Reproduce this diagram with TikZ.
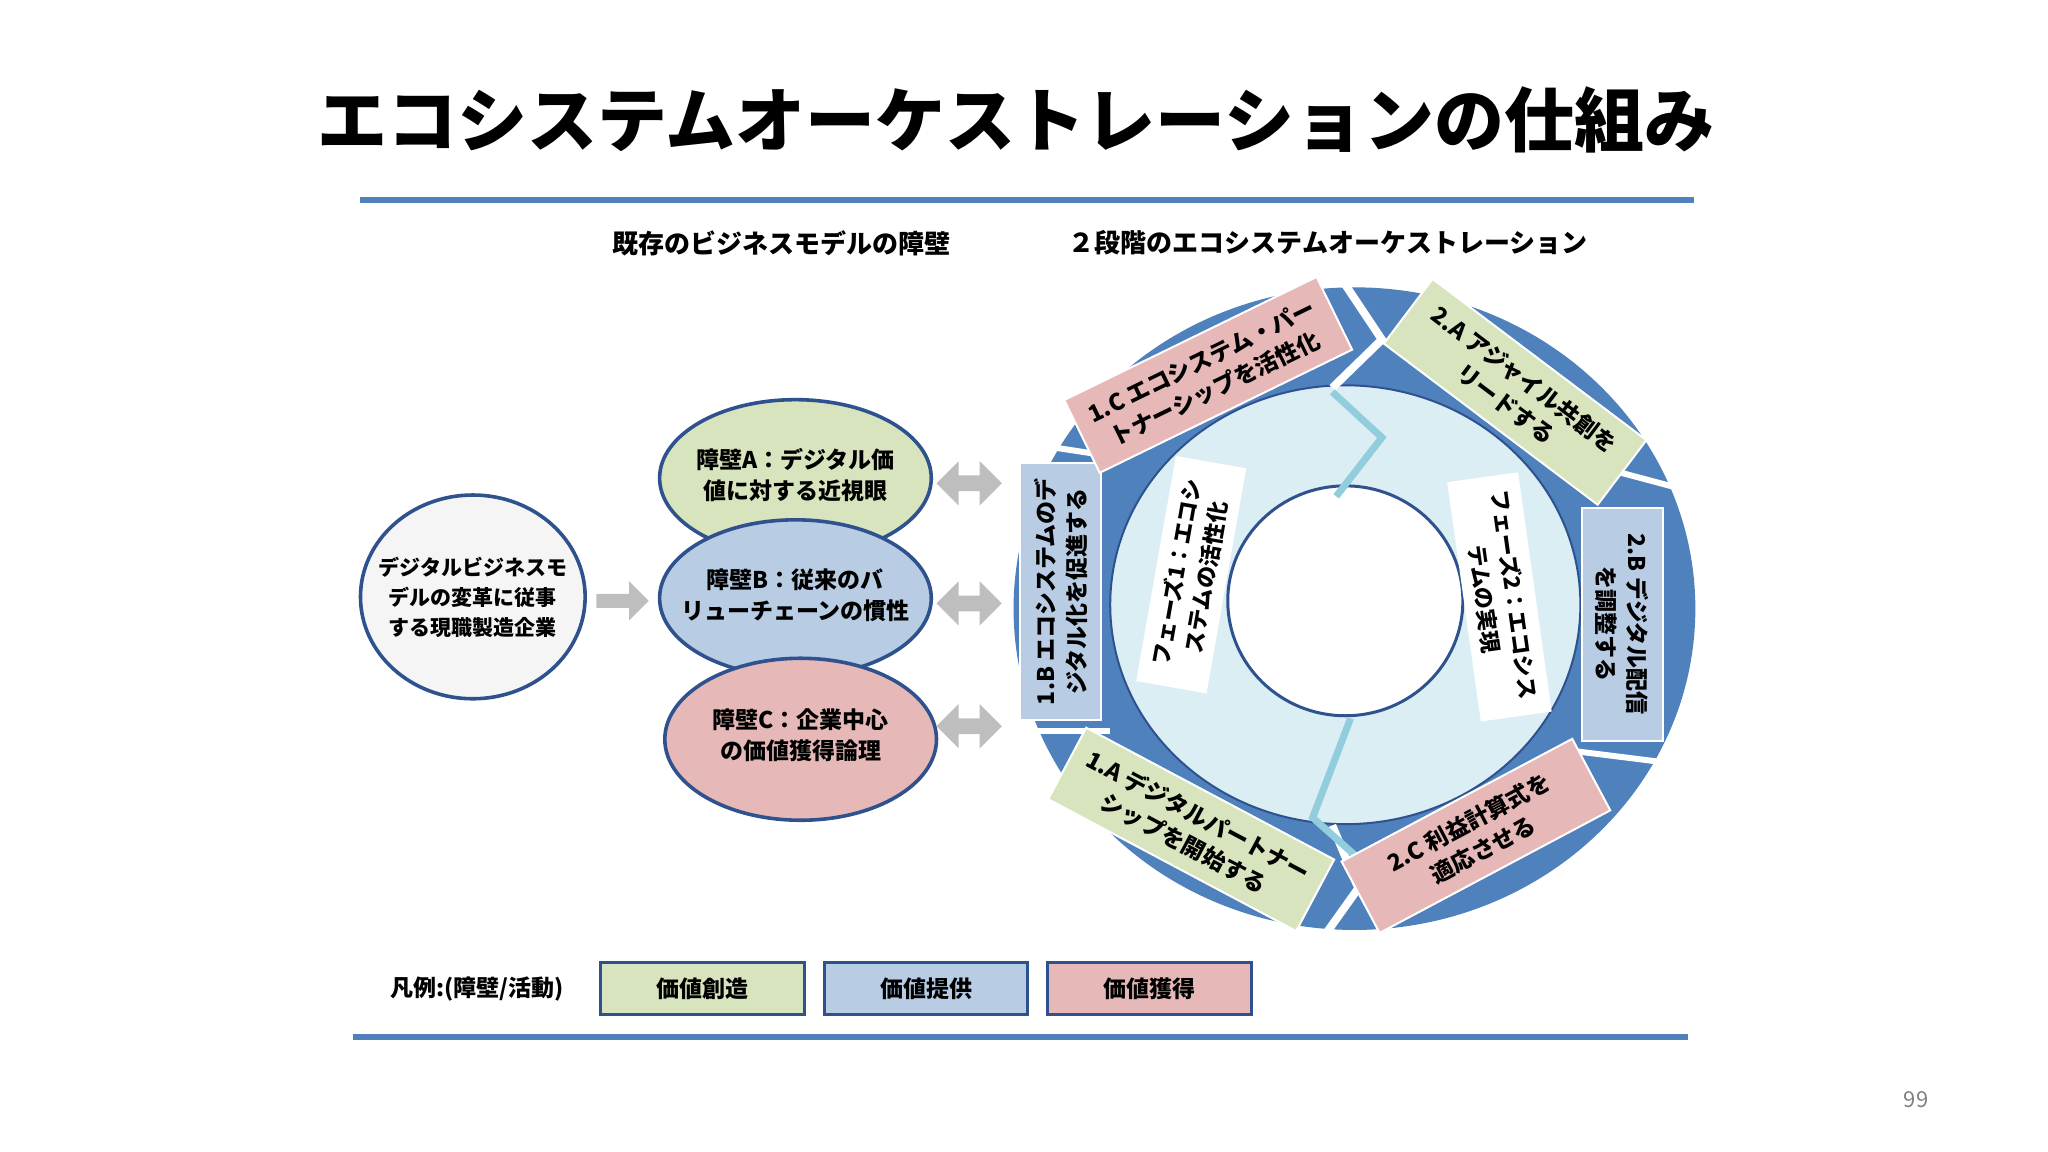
\documentclass[tikz,border=0pt]{standalone}
\usepackage{fontspec}
\setmainfont{Noto Sans CJK JP}
\usetikzlibrary{arrows.meta,shapes.arrows,shapes.geometric}
\definecolor{ringblue}{RGB}{79,129,189}
\definecolor{dkb}{RGB}{47,82,143}
\definecolor{cgreen}{RGB}{215,228,189}
\definecolor{cblue}{RGB}{184,204,228}
\definecolor{cpink}{RGB}{230,184,183}
\definecolor{clight}{RGB}{218,238,243}
\definecolor{czig}{RGB}{146,205,221}
\definecolor{cgray}{RGB}{190,190,190}
\tikzset{
 txt/.style={font=\bfseries\fontsize{11.5}{15.5}\selectfont, align=center},
 eline/.style={draw=dkb, line width=1.8pt},
 seg/.style={draw=white, line width=1pt, txt, minimum height=62*0.653pt, inner sep=2pt},
 phase/.style={fill=white, txt, font=\bfseries\fontsize{11}{15}\selectfont, inner sep=5pt},
 leg/.style={draw=dkb, line width=1.5pt, minimum width=156*0.653pt, minimum height=40*0.653pt, txt},
 garrow/.style={single arrow, fill=cgray, minimum height=40*0.653pt, minimum width=30*0.653pt, single arrow head extend=4pt, inner sep=2pt},
 gdarrow/.style={double arrow, fill=cgray, minimum height=50*0.653pt, minimum width=34*0.653pt, double arrow head extend=4pt, inner sep=2pt},
}
\begin{document}
\begin{tikzpicture}[x=0.653pt,y=-0.653pt]
\useasboundingbox (0,0) rectangle (1568,882);
\node (title) at (778,92) {\bfseries\fontsize{35}{40}\selectfont エコシステムオーケストレーションの仕組み};
\draw[ringblue, line width=3pt] (276,153) coordinate (t1) -- (1297,153) coordinate (t2);
\draw[ringblue, line width=3pt] (270,794) coordinate (b1) -- (1292,794) coordinate (b2);
\node[txt, font=\bfseries\fontsize{13}{15}\selectfont] (h1) at (598,186) {既存のビジネスモデルの障壁};
\node[txt, font=\bfseries\fontsize{13}{15}\selectfont] (h2) at (1017,186) {２段階のエコシステムオーケストレーション};
% left circle
\draw[eline, fill=gray!8] (362,457) ellipse [x radius=86, y radius=78];
\node[txt, font=\bfseries\fontsize{10.5}{15}\selectfont] (firm) at (362,457) {デジタルビジネスモ\\デルの変革に従事\\する現職製造企業};
\node[garrow] (ar0) at (474,460) {};
% ellipses
\draw[eline, fill=cgreen] (609,366) ellipse [x radius=104, y radius=60];
\node[txt] (ba) at (609,364) {障壁A：デジタル価\\値に対する近視眼};
\draw[eline, fill=cblue] (609,458) ellipse [x radius=104, y radius=60];
\node[txt] (bb) at (609,456) {障壁B：従来のバ\\リューチェーンの慣性};
\draw[eline, fill=cpink] (613,566) ellipse [x radius=104, y radius=62];
\node[txt] (bc) at (613,563) {障壁C：企業中心\\の価値獲得論理};
\node[gdarrow] (da) at (742,370) {};
\node[gdarrow] (db) at (742,462) {};
\node[gdarrow] (dc) at (742,556) {};
% ring
\fill[ringblue] (1037,466) ellipse [x radius=261, y radius=246];
\fill[clight] (1030,463) ellipse [x radius=180, y radius=168];
\draw[dkb, line width=1pt] (1030,463) ellipse [x radius=180, y radius=168];
\fill[white] (1030,460) ellipse [x radius=90, y radius=88];
\draw[dkb, line width=1.5pt] (1030,460) ellipse [x radius=90, y radius=88];
% white separators
\draw[white, line width=4pt] (1028,215) -- (1058,260) -- (1020,297);
\draw[white, line width=4pt] (1020,632) -- (1040,680) -- (1015,715);
\draw[white, line width=3pt] (790,340) -- (855,350);
\draw[white, line width=3pt] (785,560) -- (850,560);
\draw[white, line width=3pt] (1215,355) -- (1290,375);
\draw[white, line width=3pt] (1205,575) -- (1285,585);
% zigzags
\draw[czig, line width=3.5pt] (1020,300) -- (1058,335) -- (1023,380);
\draw[czig, line width=3.5pt] (1034,550) -- (1005,626) -- (1041,658);
% segments
\node[seg, fill=cblue, minimum width=197*0.653pt, rotate=90] (s1b) at (812,453) {1.B エコシステムのデ\\ジタル化を促進する};
\node[seg, fill=cpink, minimum width=215*0.653pt, rotate=26] (s1c) at (925,287) {1.C エコシステム・パー\\トナーシップを活性化};
\node[seg, fill=cgreen, minimum width=205*0.653pt, rotate=-37] (s2a) at (1160,300) {2.A アジャイル共創を\\リードする};
\node[seg, fill=cblue, minimum width=178*0.653pt, rotate=-90] (s2b) at (1242,478) {2.B デジタル配信\\を調整する};
\node[seg, fill=cpink, minimum width=200*0.653pt, rotate=28] (s2c) at (1130,640) {2.C 利益計算式を\\適応させる};
\node[seg, fill=cgreen, minimum width=215*0.653pt, rotate=-28] (s1a) at (912,635) {1.A デジタルパートナー\\シップを開始する};
% phases
\node[phase, rotate=80, minimum width=175*0.653pt] (p1) at (912,440) {フェーズ1：エコシ\\ステムの活性化};
\node[phase, rotate=-82, minimum width=185*0.653pt] (p2) at (1148,457) {フェーズ2：エコシス\\テムの実現};
% legend
\node[txt] (legt) at (365,757) {凡例:(障壁/活動)};
\node[leg, fill=cgreen] (l1) at (538,757) {価値創造};
\node[leg, fill=cblue] (l2) at (709,757) {価値提供};
\node[leg, fill=cpink] (l3) at (880,757) {価値獲得};
\node[text=gray, font=\fontsize{11}{13}\selectfont] (pg) at (1467,842) {99};
\end{tikzpicture}
\end{document}
